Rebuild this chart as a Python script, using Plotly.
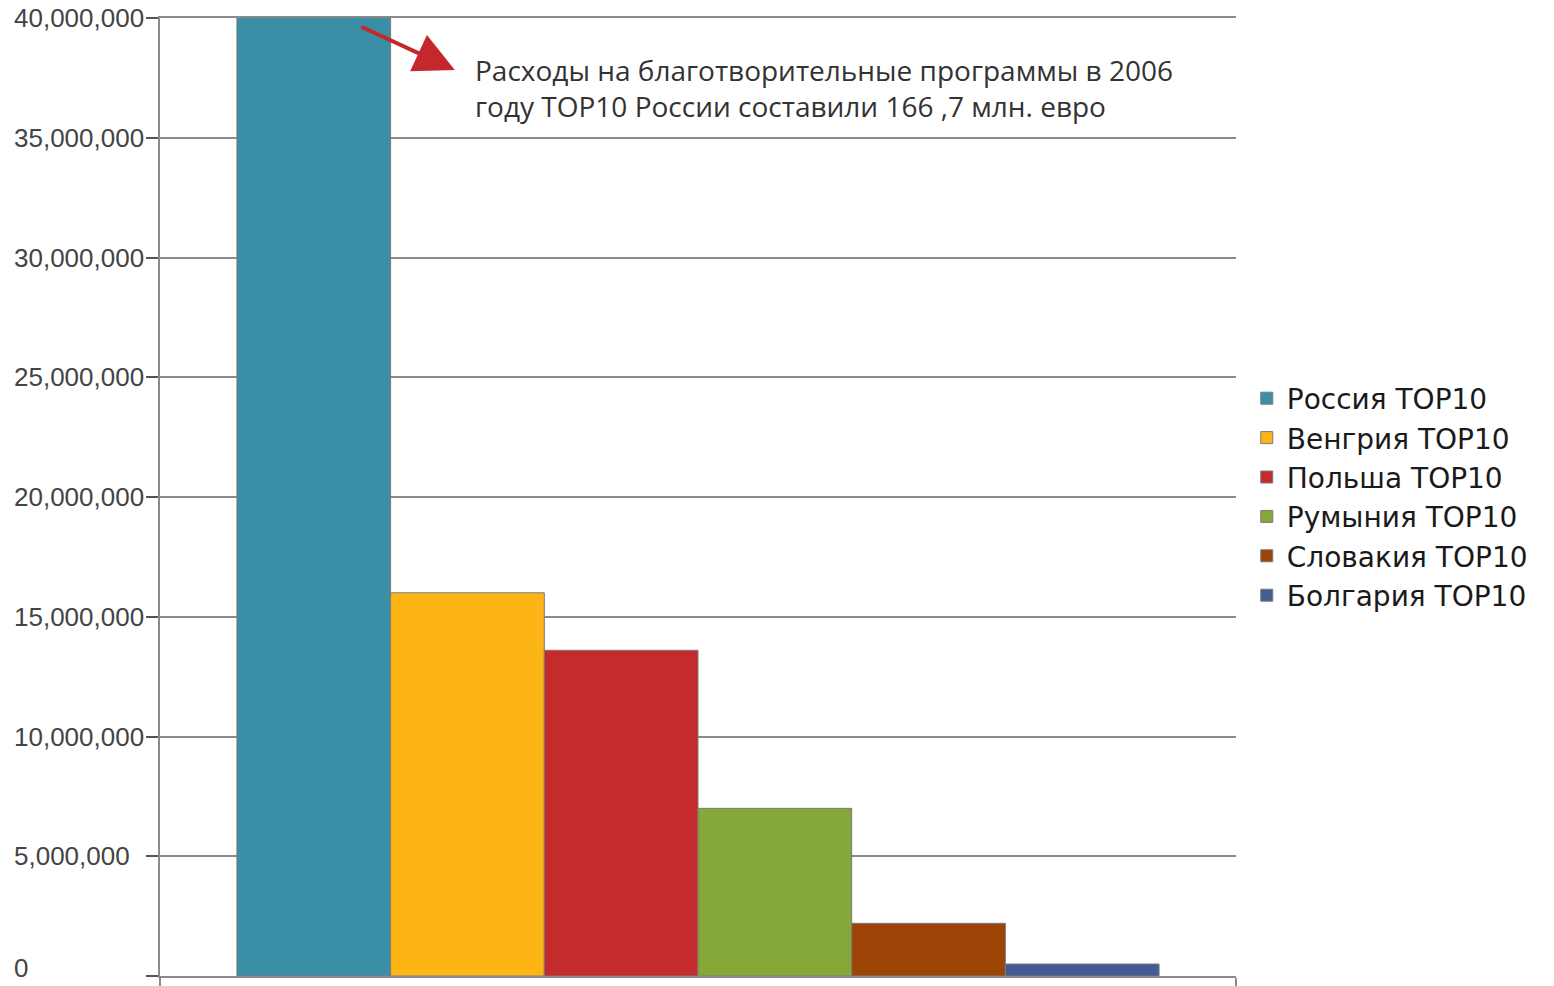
import plotly.graph_objects as go

series_names = ["Россия TOP10", "Венгрия TOP10", "Польша TOP10",
                "Румыния TOP10", "Словакия TOP10", "Болгария TOP10"]
series_values = [166700000, 16000000, 13600000, 7000000, 2200000, 500000]
series_colors = ["#3A8FA6", "#FDB515", "#C52A2C", "#86A838", "#9B4406", "#455B93"]
y_ticks = [0, 5000000, 10000000, 15000000, 20000000, 25000000, 30000000, 35000000, 40000000]
y_tick_labels = ["0", "5,000,000", "10,000,000", "15,000,000", "20,000,000",
                 "25,000,000", "30,000,000", "35,000,000", "40,000,000"]
note_text = "Расходы на благотворительные программы в 2006<br>году TOP10 России составили 166 ,7 млн. евро"

fig = go.Figure()
for name, val, col in zip(series_names, series_values, series_colors):
    fig.add_trace(go.Bar(
        x=[0], y=[val], name=name,
        marker=dict(color=col, line=dict(color="#7a7a7a", width=1)),
    ))

fig.update_layout(
    width=1554, height=986,
    margin=dict(l=160, r=318, t=18, b=10, autoexpand=False),
    paper_bgcolor="white", plot_bgcolor="white",
    barmode="group", bargap=0.143, bargroupgap=0,
    showlegend=True,
    legend=dict(x=1.01, xanchor="left", y=0.5, yanchor="middle",
                font=dict(family="DejaVu Sans", size=28, color="#1a1a1a"),
                itemwidth=30, tracegroupgap=0, bgcolor="rgba(0,0,0,0)"),
    font=dict(family="Liberation Sans"),
)
fig.update_xaxes(
    range=[-0.5, 0.5], showgrid=False, zeroline=False, automargin=False,
    showline=True, linecolor="#8a8a8a", linewidth=2, mirror=True,
    tickvals=[-0.5, 0.5], ticktext=["", ""], ticks="outside", ticklen=8,
    tickcolor="#8a8a8a", tickwidth=2, showticklabels=False,
)
fig.update_yaxes(
    range=[0, 40000000], tickvals=y_ticks, automargin=False,
    showgrid=True, gridcolor="#8a8a8a", gridwidth=2,
    zeroline=False, showline=True, linecolor="#8a8a8a", linewidth=2,
    ticks="outside", ticklen=12, tickcolor="#555555", tickwidth=2,
    showticklabels=False,
)
# left-aligned tick labels, as in the reference
for v, lab in zip(y_ticks, y_tick_labels):
    fig.add_annotation(
        xref="paper", yref="y", x=-0.1375, y=v, xanchor="left", yanchor="middle",
        text=lab, showarrow=False, yshift=(8 if v == 0 else 0),
        font=dict(family="Liberation Sans", size=26, color="#444444"),
    )
fig.add_annotation(
    xref="paper", yref="paper", x=0.274, y=0.9457, text="",
    showarrow=True, ax=-95, ay=-44, arrowhead=2, arrowsize=2,
    arrowwidth=4, arrowcolor="#C4282C",
)
fig.add_annotation(
    xref="paper", yref="paper", x=0.291, y=0.927, xanchor="left", yanchor="middle",
    text=note_text, showarrow=False, align="left",
    font=dict(family="Open Sans", size=28, color="#333333"),
)
fig.write_html("out.html", config={"displayModeBar": False},
               post_script="document.body.style.margin='0';document.body.style.padding='0';")
